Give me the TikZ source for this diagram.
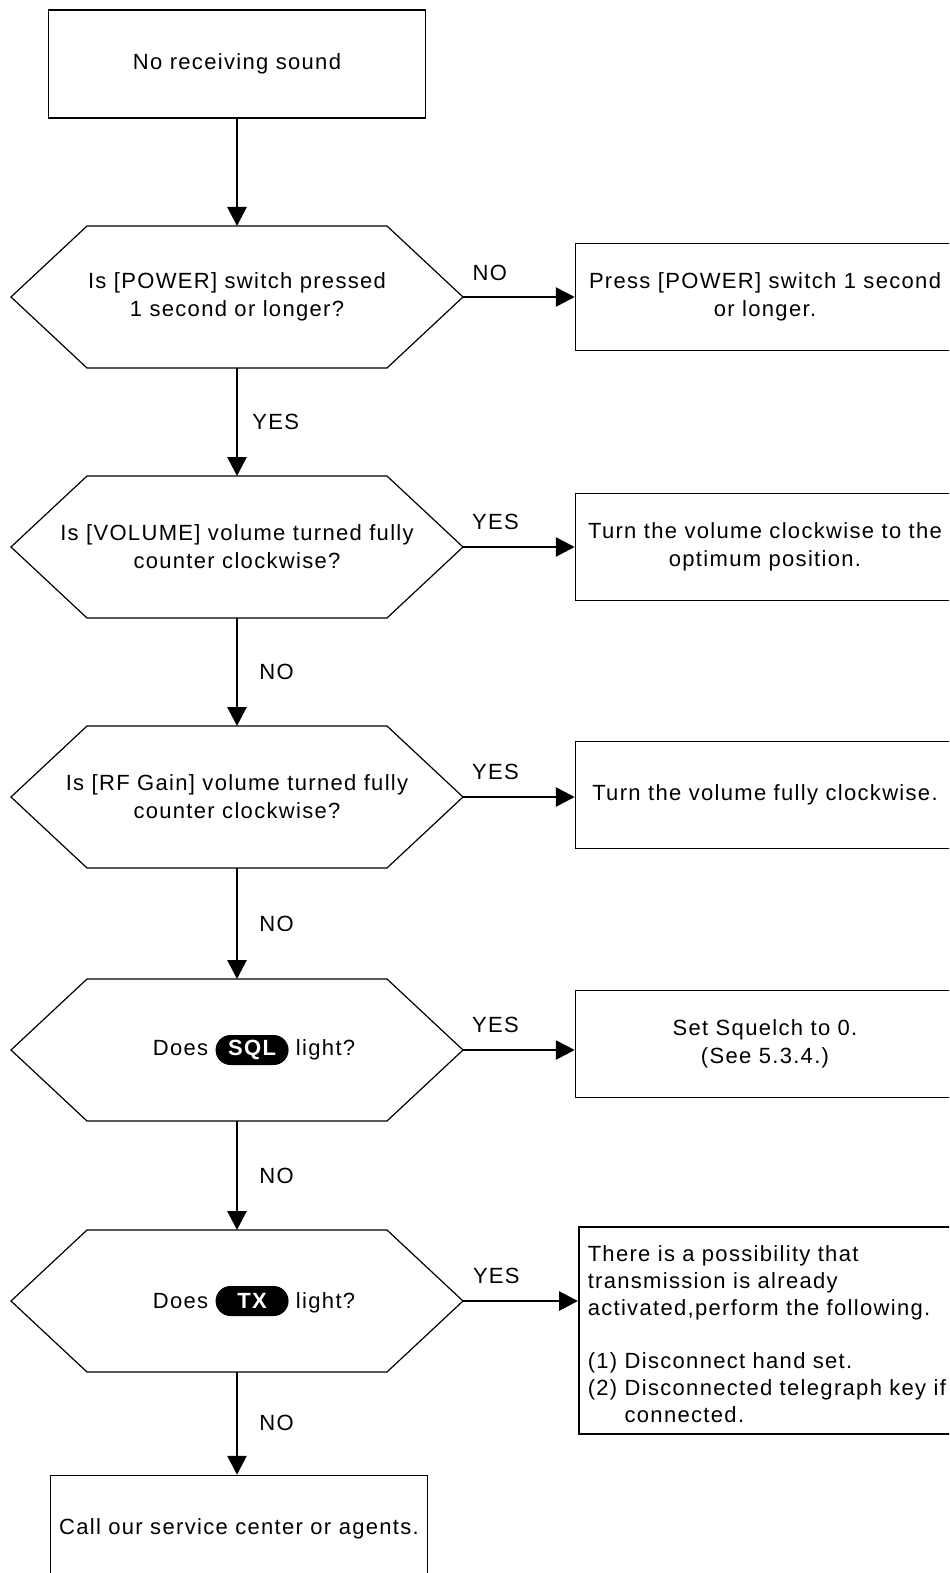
\documentclass[tikz,border=0pt]{standalone}
\usepackage{fontspec}
\setmainfont{Liberation Sans}[LetterSpace=6]
\usetikzlibrary{arrows.meta,positioning}

\tikzset{
  box/.style={draw, line width=0.75pt, rectangle, minimum width=189.5pt, minimum height=53.5pt, inner sep=4pt, align=center},
  decision/.style={rectangle, minimum width=226pt, minimum height=71pt, inner sep=0pt, outer sep=0pt, align=center},
  arr/.style={line width=1.4pt, -{Triangle[length=9.5pt,width=9.5pt]}},
  lbl/.style={inner sep=0pt},
  lamp/.style={fill=black, text=white, font=\bfseries, rounded corners=7.5pt, minimum width=36.5pt, minimum height=15pt, inner sep=0pt}
}
\newcommand{\lampkey}[1]{\tikz[baseline=(k.base)]\node[lamp] (k) {#1};}

\begin{document}
\begin{tikzpicture}[x=0.5pt, y=-0.5pt, font=\fontsize{11}{14}\selectfont]
  \useasboundingbox (0,0) rectangle (949,1573);
  \clip (0,0) rectangle (949,1573);

  % main column
  \node[box, minimum width=188.5pt, minimum height=54pt] (start) at (237,64) {No receiving sound};
  \node[decision] (q1) at (237,297) {Is [POWER] switch pressed\\1 second or longer?};
  \node[decision] (q2) at (237,547) {Is [VOLUME] volume turned fully\\counter clockwise?};
  \node[decision] (q3) at (237,797) {Is [RF Gain] volume turned fully\\counter clockwise?};
  \node[decision] (q4) at (237,1050) {\hspace*{17pt}Does \lampkey{SQL} light?};
  \node[decision] (q5) at (237,1301) {\hspace*{17pt}Does \lampkey{TX} light?};
  \node[box, minimum width=188.5pt] (end) at (239,1529) {Call our service center or agents.};

  \foreach \q in {q1,q2,q3,q4,q5}
    \draw[line width=0.6pt] (\q.west) -- ([xshift=38pt]\q.north west) -- ([xshift=-38pt]\q.north east)
      -- (\q.east) -- ([xshift=-38pt]\q.south east) -- ([xshift=38pt]\q.south west) -- cycle;

  % actions on the right
  \node[box] (b1) at (765,297) {Press [POWER] switch 1 second\\or longer.};
  \node[box] (b2) at (765,547) {Turn the volume clockwise to the\\optimum position.};
  \node[box] (b3) at (765,795) {Turn the volume fully clockwise.};
  \node[box] (b4) at (765,1044) {Set Squelch to 0.\\(See 5.3.4.)};
  \node[box, anchor=north west, minimum height=103.5pt, text width=185pt, inner xsep=4.5pt, inner ysep=2pt, align=left,
        font=\fontsize{11}{13.4}\selectfont] (b5) at (578,1226)
    {\rule{0pt}{14pt}There is a possibility that\\transmission is already\\activated,perform the following.\\[13.4pt]
     (1) Disconnect hand set.\\(2) Disconnected telegraph key if\\\phantom{(2) }connected.};

  % connectors
  \draw[arr] (start) -- (q1);
  \draw[arr] (q1) -- node[lbl, midway, right=7pt] {YES} (q2);
  \draw[arr] (q2) -- node[lbl, midway, right=10.5pt] {NO} (q3);
  \draw[arr] (q3) -- node[lbl, midway, right=10.5pt] {NO} (q4);
  \draw[arr] (q4) -- node[lbl, midway, right=10.5pt] {NO} (q5);
  \draw[arr] (q5.south) -- node[lbl, midway, right=10.5pt] {NO} (q5.south |- end.north);

  \draw[arr] (q1.east) -- node[lbl, pos=0.24, above=7.5pt] {NO} (q1.east -| b1.west);
  \draw[arr] (q2.east) -- node[lbl, pos=0.29, above=8pt] {YES} (q2.east -| b2.west);
  \draw[arr] (q3.east) -- node[lbl, pos=0.29, above=8pt] {YES} (q3.east -| b3.west);
  \draw[arr] (q4.east) -- node[lbl, pos=0.29, above=8pt] {YES} (q4.east -| b4.west);
  \draw[arr] (q5.east) -- node[lbl, pos=0.29, above=8pt] {YES} (q5.east -| b5.west);
\end{tikzpicture}
\end{document}
